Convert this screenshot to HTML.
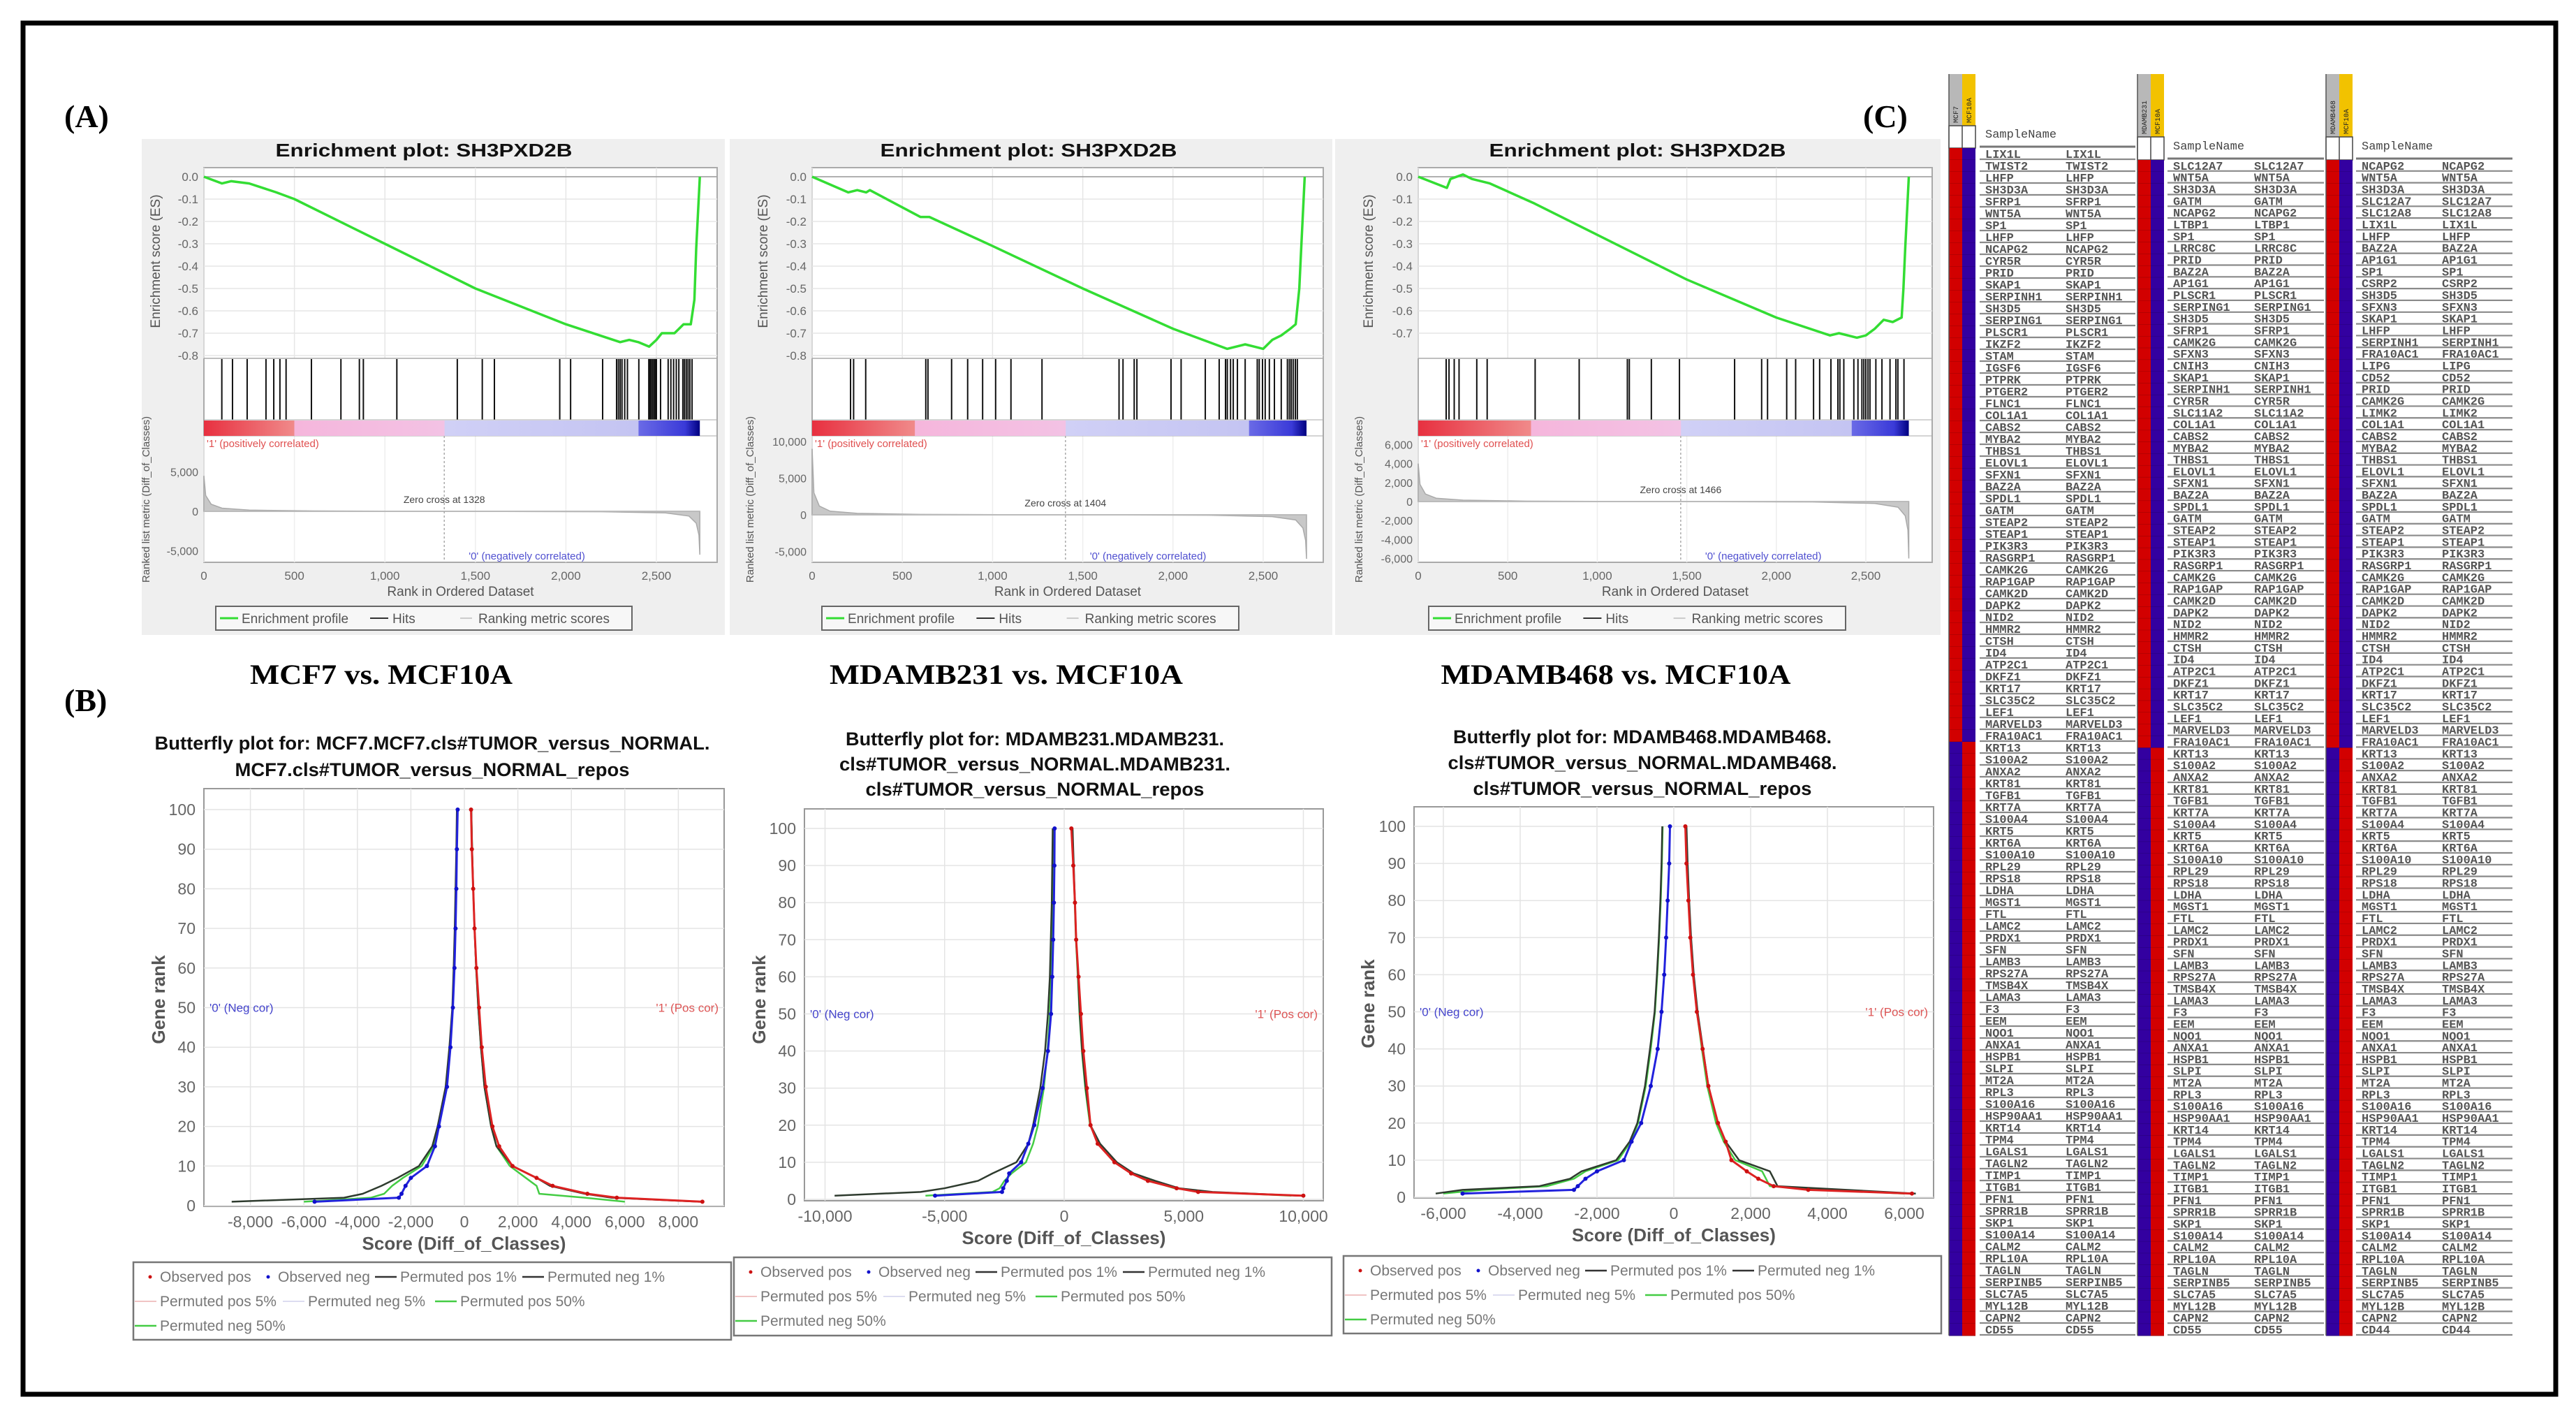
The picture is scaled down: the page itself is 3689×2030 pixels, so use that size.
<!DOCTYPE html>
<html><head><meta charset="utf-8">
<style>
html,body{margin:0;padding:0;background:#fff;}
svg{display:block;font-family:"Liberation Sans",sans-serif;}
</style></head>
<body>
<svg id="fig" width="3689" height="2030" viewBox="0 0 3689 2030" xmlns="http://www.w3.org/2000/svg">
<rect x="0" y="0" width="3689" height="2030" fill="#fff"/>
<rect x="33" y="33" width="3627" height="1963" fill="none" stroke="#000" stroke-width="7"/>
<text x="92" y="182" font-family="Liberation Serif,serif" font-weight="bold" font-size="46">(A)</text>
<text x="92" y="1018" font-family="Liberation Serif,serif" font-weight="bold" font-size="46">(B)</text>
<text x="2668" y="182" font-family="Liberation Serif,serif" font-weight="bold" font-size="46">(C)</text>
<text x="546" y="979" text-anchor="middle" font-family="Liberation Serif,serif" font-weight="bold" font-size="40" textLength="376" lengthAdjust="spacingAndGlyphs">MCF7 vs. MCF10A</text>
<text x="1441" y="979" text-anchor="middle" font-family="Liberation Serif,serif" font-weight="bold" font-size="40" textLength="506" lengthAdjust="spacingAndGlyphs">MDAMB231 vs. MCF10A</text>
<text x="2314" y="979" text-anchor="middle" font-family="Liberation Serif,serif" font-weight="bold" font-size="40" textLength="501" lengthAdjust="spacingAndGlyphs">MDAMB468 vs. MCF10A</text>
</svg>
<script>
// ===== DATA: Enrichment plots (A) =====
const N_RANKS = 2740;
const esRanksA1 = [0,100,150,250,400,500,1000,1500,2000,2300,2350,2400,2460,2500,2530,2600,2650,2690,2710,2720,2740];
const esValsA1  = [0,-0.03,-0.02,-0.03,-0.07,-0.1,-0.3,-0.5,-0.66,-0.74,-0.73,-0.74,-0.76,-0.73,-0.70,-0.70,-0.66,-0.66,-0.55,-0.32,0.0];
const esRanksA2 = [0,200,250,300,320,600,650,1000,1500,2000,2300,2400,2450,2500,2550,2600,2650,2680,2700,2710,2730];
const esValsA2  = [0,-0.07,-0.06,-0.07,-0.06,-0.18,-0.18,-0.31,-0.5,-0.68,-0.77,-0.75,-0.76,-0.77,-0.73,-0.71,-0.68,-0.66,-0.5,-0.33,0];
const esRanksA3 = [0,160,180,250,300,400,650,1000,1500,2000,2300,2350,2450,2500,2550,2600,2650,2700,2710,2720,2740];
const esValsA3  = [0,-0.05,-0.01,0.01,-0.01,-0.03,-0.12,-0.26,-0.46,-0.63,-0.71,-0.70,-0.72,-0.71,-0.68,-0.64,-0.65,-0.63,-0.5,-0.32,0];
const hitsA1 = [99,158,239,343,386,420,454,594,757,859,881,1066,1400,1538,1605,1966,2026,2203,2280,2290,2300,2310,2325,2340,2403,2458,2465,2472,2480,2488,2495,2500,2523,2565,2580,2595,2610,2624,2646,2655,2665,2675,2685,2697];
const hitsA2 = [213,230,297,630,642,773,862,945,1017,1102,1274,1701,1723,1785,1800,1989,2045,2179,2256,2291,2301,2319,2334,2357,2400,2467,2478,2496,2511,2534,2562,2600,2634,2645,2655,2666,2678,2689];
const hitsA3 = [156,172,201,228,327,385,653,899,1168,1179,1302,1459,1767,1918,1951,2058,2108,2208,2242,2305,2344,2355,2377,2433,2456,2478,2489,2500,2512,2523,2556,2590,2635,2668,2679,2713];
const metricRanks = [0,10,40,100,250,600,1330,2200,2550,2680,2720,2735,2740];
const metricA1 = [4500,2000,900,400,150,50,0,-50,-200,-600,-1500,-3000,-5500];
const metricA2 = [9000,3000,1200,500,200,60,0,-60,-250,-700,-1800,-3500,-6000];
const metricA3 = [4000,1800,800,350,150,50,0,-50,-200,-600,-1500,-3000,-6000];
const zeroCross = [1328,1404,1466];
const redEnd = [500,570,630];
const blueStart = [2400,2420,2420];
const rankTicks = [0,500,1000,1500,2000,2500];
const rankTickLabels = ["0","500","1,000","1,500","2,000","2,500"];
const esTicksA12 = [0,-0.1,-0.2,-0.3,-0.4,-0.5,-0.6,-0.7,-0.8];
const esTicksA3 = [0,-0.1,-0.2,-0.3,-0.4,-0.5,-0.6,-0.7];
const metricTicksA1 = [5000,0,-5000];
const metricTicksA2 = [10000,5000,0,-5000];
const metricTicksA3 = [6000,4000,2000,0,-2000,-4000,-6000];

// ===== DATA: Butterfly plots (B) =====
const bRanks = [1,2,3,5,7,10,15,20,30,40,50,60,70,80,90,100];
const b1ObsPos = [8900,5700,4600,3300,2700,1800,1300,1050,800,650,550,450,380,330,280,250];
const b1ObsNeg = [-5600,-2450,-2350,-2200,-2000,-1400,-1100,-950,-650,-520,-430,-370,-330,-300,-280,-250];
const b1P1Pos  = [8800,5500,4500,3200,2700,1800,1200,1000,750,620,520,440,380,330,290,260];
const b1P1Neg  = [-8700,-4500,-3800,-3100,-2500,-1700,-1200,-1000,-700,-560,-450,-400,-360,-330,-300,-280];
const b1P50Pos = [6000,4500,2800,2700,2300,1700,1200,1000,750,620,520,440,380,330,290,260];
const b1P50Neg = [-6000,-3500,-3000,-2700,-2300,-1600,-1150,-950,-680,-540,-440,-390,-350,-320,-290,-270];
const b2ObsPos = [10000,5600,4700,3500,2800,2100,1400,1100,950,800,700,600,500,450,380,300];
const b2ObsNeg = [-5400,-2600,-2550,-2400,-2300,-1800,-1500,-1250,-900,-680,-550,-500,-460,-430,-410,-400];
const b2P1Pos  = [9800,6200,4800,3800,2900,2200,1500,1100,900,750,650,580,500,450,400,350];
const b2P1Neg  = [-9600,-6000,-5000,-3600,-3000,-2000,-1500,-1300,-1000,-800,-680,-600,-560,-520,-500,-480];
const b2P50Pos = [9500,6000,4600,3600,2800,2100,1450,1080,880,740,640,570,490,440,390,340];
const b2P50Neg = [-5800,-3000,-2700,-2500,-2200,-1600,-1300,-1100,-850,-700,-600,-540,-500,-470,-440,-420];
const b3ObsPos = [6200,3500,2600,2200,1900,1500,1350,1150,900,750,600,500,430,380,330,300];
const b3ObsNeg = [-5500,-2600,-2500,-2300,-2000,-1300,-1100,-850,-600,-420,-320,-250,-200,-160,-120,-100];
const b3P1Pos  = [6300,4500,2700,2600,2500,1700,1350,1150,900,760,620,520,450,400,360,330];
const b3P1Neg  = [-6200,-5500,-3500,-2700,-2400,-1500,-1150,-950,-750,-620,-500,-440,-390,-350,-320,-300];
const b3P50Pos = [6000,4000,2500,2400,2300,1600,1300,1100,870,730,600,500,440,390,350,320];
const b3P50Neg = [-6000,-5000,-3300,-2600,-2300,-1450,-1120,-930,-730,-600,-490,-430,-380,-340,-310,-290];
const bRankTicks = [0,10,20,30,40,50,60,70,80,90,100];
const b1XTicks = [-8000,-6000,-4000,-2000,0,2000,4000,6000,8000];
const b2XTicks = [-10000,-5000,0,5000,10000];
const b3XTicks = [-6000,-4000,-2000,0,2000,4000,6000];

// ===== DATA: Heatmap tables (C) =====
const genes1 = ["LIX1L","TWIST2","LHFP","SH3D3A","SFRP1","WNT5A","SP1","LHFP","NCAPG2","CYR5R","PRID","SKAP1","SERPINH1","SH3D5","SERPING1","PLSCR1","IKZF2","STAM","IGSF6","PTPRK","PTGER2","FLNC1","COL1A1","CABS2","MYBA2","THBS1","ELOVL1","SFXN1","BAZ2A","SPDL1","GATM","STEAP2","STEAP1","PIK3R3","RASGRP1","CAMK2G","RAP1GAP","CAMK2D","DAPK2","NID2","HMMR2","CTSH","ID4","ATP2C1","DKFZ1","KRT17","SLC35C2","LEF1","MARVELD3","FRA10AC1","KRT13","S100A2","ANXA2","KRT81","TGFB1","KRT7A","S100A4","KRT5","KRT6A","S100A10","RPL29","RPS18","LDHA","MGST1","FTL","LAMC2","PRDX1","SFN","LAMB3","RPS27A","TMSB4X","LAMA3","F3","EEM","NQO1","ANXA1","HSPB1","SLPI","MT2A","RPL3","S100A16","HSP90AA1","KRT14","TPM4","LGALS1","TAGLN2","TIMP1","ITGB1","PFN1","SPRR1B","SKP1","S100A14","CALM2","RPL10A","TAGLN","SERPINB5","SLC7A5","MYL12B","CAPN2","CD55"];
const genes2 = ["SLC12A7","WNT5A","SH3D3A","GATM","NCAPG2","LTBP1","SP1","LRRC8C","PRID","BAZ2A","AP1G1","PLSCR1","SERPING1","SH3D5","SFRP1","CAMK2G","SFXN3","CNIH3","SKAP1","SERPINH1","CYR5R","SLC11A2"].concat(genes1.slice(22));
const genes3 = ["NCAPG2","WNT5A","SH3D3A","SLC12A7","SLC12A8","LIX1L","LHFP","BAZ2A","AP1G1","SP1","CSRP2","SH3D5","SFXN3","SKAP1","LHFP","SERPINH1","FRA10AC1","LIPG","CD52","PRID","CAMK2G","LIMK2"].concat(genes1.slice(22, 99)).concat(["CD44"]);
const swapRow = [50,50,50];
const sampleHeaders = [["MCF7","MCF10A"],["MDAMB231","MCF10A"],["MDAMB468","MCF10A"]];

// ===== RENDERING =====
const svg = document.getElementById('fig');
const NS = 'http://www.w3.org/2000/svg';
function mk(tag, attrs, parent){ const e=document.createElementNS(NS,tag); for(const k in attrs) e.setAttribute(k,attrs[k]); (parent||svg).appendChild(e); return e; }
function txt(str, attrs, parent){ const e=mk('text',attrs,parent); e.textContent=str; return e; }
function fmt(v){ const s=Math.abs(v).toLocaleString('en-US'); return (v<0?'-':'')+s; }

const defs = mk('defs',{});

function drawEnrichment(k, L, esR, esV, hits, mV, zc, rEnd, bStart, esTicks, mTicks){
  const g = mk('g',{});
  
  
  const xR = r => L.x0 + r*(L.x2500-L.x0)/2500;
  const yE = v => 253 + (v/-0.8)*(509-253);
  const yM = v => L.m0y - v*L.mK;
  const bg = mk('rect',{x:L.pL,y:199,width:L.pR-L.pL,height:710,fill:'#efefef'},g);
  
  
  const t = txt('Enrichment plot: SH3PXD2B',{x:L.tX,y:224,'text-anchor':'middle','font-size':26,'font-weight':'bold',fill:'#111',textLength:425,lengthAdjust:'spacingAndGlyphs'},g);
  
  
  const box = mk('rect',{x:L.bL,y:240,width:L.bR-L.bL,height:565,fill:'#fff',stroke:'#aaa','stroke-width':2},g);
  
  
  esTicks.forEach(v=>{
    const gl = mk('line',{x1:L.bL,x2:L.bR,y1:yE(v),y2:yE(v),stroke:'#e6e6e6','stroke-width':1.5},g);
    
    
    const tl = txt(v.toFixed(1),{x:L.bL-8,y:yE(v)+6,'text-anchor':'end','font-size':17,fill:'#666'},g);
    
    
  });
  rankTicks.forEach((r,i)=>{
    const gl = mk('line',{x1:xR(r),x2:xR(r),y1:240,y2:513,stroke:'#e6e6e6','stroke-width':1.5},g);
    
    
    const gl2 = mk('line',{x1:xR(r),x2:xR(r),y1:624,y2:805,stroke:'#eee','stroke-width':1.5},g);
    
    
    const tl = txt(rankTickLabels[i],{x:xR(r),y:830,'text-anchor':'middle','font-size':17,fill:'#666'},g);
    
    
  });
  const zl = mk('line',{x1:L.bL,x2:L.bR,y1:yE(0),y2:yE(0),stroke:'#999','stroke-width':1.5},g);
  
  
  const es = mk('polyline',{points:esR.map((r,i)=>xR(r)+','+yE(esV[i])).join(' '),fill:'none',stroke:'#33dd33','stroke-width':3.5,'stroke-linejoin':'round'},g);
  
  
  mk('line',{x1:L.bL,x2:L.bR,y1:513,y2:513,stroke:'#aaa','stroke-width':1.5},g);
  hits.forEach(r=>{
    const h = mk('line',{x1:xR(r),x2:xR(r),y1:514,y2:601,stroke:'#111','stroke-width':2},g);
    
    
  });
  mk('line',{x1:L.bL,x2:L.bR,y1:601,y2:601,stroke:'#aaa','stroke-width':1},g);
  mk('line',{x1:L.bL,x2:L.bR,y1:624,y2:624,stroke:'#aaa','stroke-width':1},g);
  const gid='cbar'+k;
  const lg = mk('linearGradient',{id:gid,x1:0,x2:1,y1:0,y2:0},defs);
  const stops=[[0,'#e83040'],[rEnd/N_RANKS*0.999,'#f08a8a'],[rEnd/N_RANKS,'#f5b6dc'],[zc/N_RANKS,'#f3c2e4'],[zc/N_RANKS+0.001,'#d0d0f6'],[bStart/N_RANKS,'#c4c4f2'],[bStart/N_RANKS+0.001,'#6a6ae6'],[0.97,'#3a3ad8'],[1,'#000080']];
  stops.forEach(s=>mk('stop',{offset:s[0],'stop-color':s[1]},lg));
  const cb = mk('rect',{x:xR(0),y:602,width:xR(N_RANKS)-xR(0),height:22,fill:'url(#'+gid+')'},g);
  
  
  const pts = [xR(0)+','+yM(0)].concat(metricRanks.map((r,i)=>xR(r)+','+yM(mV[i]))).concat([xR(N_RANKS)+','+yM(0)]);
  const ma = mk('polygon',{points:pts.join(' '),fill:'#c8c8c8',stroke:'#aaa','stroke-width':1.5},g);
  
  
  mk('line',{x1:xR(0),x2:xR(N_RANKS),y1:yM(0),y2:yM(0),stroke:'#bbb','stroke-width':2},g);
  const zcl = mk('line',{x1:xR(zc),x2:xR(zc),y1:624,y2:805,stroke:'#aaa','stroke-width':1.5,'stroke-dasharray':'3,3'},g);
  
  
  mTicks.forEach(v=>{
    const tl = txt(fmt(v),{x:L.bL-8,y:yM(v)+6,'text-anchor':'end','font-size':16,fill:'#666'},g);
    
    
  });
  const zt = txt('Zero cross at '+zc,{x:xR(zc),y:yM(0)-12,'text-anchor':'middle','font-size':14,fill:'#444'},g);
  
  
  const pc = txt("'1' (positively correlated)",{x:xR(0)+4,y:640,'font-size':15,fill:'#e05050'},g);
  
  
  const nc = txt("'0' (negatively correlated)",{x:xR(zc)+35,y:801,'font-size':15,fill:'#5050d0'},g);
  
  
  const xt = txt('Rank in Ordered Dataset',{x:(L.bL+L.bR)/2,y:853,'text-anchor':'middle','font-size':19,fill:'#555'},g);
  
  
  const yt = txt('Enrichment score (ES)',{x:0,y:0,'text-anchor':'middle','font-size':19,fill:'#555',transform:'translate('+L.yEs+',374) rotate(-90)'},g);
  
  
  const yt2 = txt('Ranked list metric (Diff_of_Classes)',{x:0,y:0,'text-anchor':'middle','font-size':15,fill:'#555',transform:'translate('+L.yMl+',715) rotate(-90)'},g);
  
  
  const lb = mk('rect',{x:L.lL,y:868,width:L.lR-L.lL,height:34,fill:'#f7f7f7',stroke:'#666','stroke-width':2},g);
  
  
  const s = (L.lR-L.lL)/596;
  mk('line',{x1:L.lL+6*s,x2:L.lL+32*s,y1:885,y2:885,stroke:'#33dd33','stroke-width':3},g);
  const e1 = txt('Enrichment profile',{x:L.lL+37*s,y:892,'font-size':19,fill:'#555'},g);
  
  
  mk('line',{x1:L.lL+221*s,x2:L.lL+247*s,y1:885,y2:885,stroke:'#333','stroke-width':2},g);
  const e2 = txt('Hits',{x:L.lL+253*s,y:892,'font-size':19,fill:'#555'},g);
  
  
  mk('line',{x1:L.lL+350*s,x2:L.lL+367*s,y1:885,y2:885,stroke:'#ccc','stroke-width':2},g);
  const e3 = txt('Ranking metric scores',{x:L.lL+376*s,y:892,'font-size':19,fill:'#555'},g);
  
  
}

const layoutsA = [
  {pL:203,pR:1038,x0:292,x2500:940,bL:292,bR:1027,tX:607,m0y:732,mK:0.0113,yEs:229,yMl:214,lL:309,lR:905},
  {pL:1045,pR:1908,x0:1163,x2500:1809,bL:1163,bR:1895,tX:1473,m0y:737,mK:0.0105,yEs:1099,yMl:1079,lL:1177,lR:1774},
  {pL:1912,pR:2779,x0:2031,x2500:2672,bL:2031,bR:2767,tX:2345,m0y:718,mK:0.01358,yEs:1966,yMl:1951,lL:2046,lR:2643}
];
drawEnrichment(0,layoutsA[0],esRanksA1,esValsA1,hitsA1,metricA1,zeroCross[0],redEnd[0],blueStart[0],esTicksA12,metricTicksA1);
drawEnrichment(1,layoutsA[1],esRanksA2,esValsA2,hitsA2,metricA2,zeroCross[1],redEnd[1],blueStart[1],esTicksA12,metricTicksA2);
drawEnrichment(2,layoutsA[2],esRanksA3,esValsA3,hitsA3,metricA3,zeroCross[2],redEnd[2],blueStart[2],esTicksA3,metricTicksA3);

function drawButterfly(k, L, titleLines, obsPos, obsNeg, p1Pos, p1Neg, p50Pos, p50Neg, xTicks){
  const g = mk('g',{});
  
  
  const xS = v => L.x0 + v*L.xK;
  const yS = r => L.y0 - r*(L.y0-L.y100)/100;
  titleLines.forEach((ln,i)=>{
    const t = txt(ln[0],{x:L.tX,y:L.tY[i]+9,'text-anchor':'middle','font-size':27,'font-weight':'bold',fill:'#111',textLength:ln[1],lengthAdjust:'spacingAndGlyphs'},g);
    
    
  });
  const box = mk('rect',{x:L.bL,y:L.bT,width:L.bR-L.bL,height:L.bB-L.bT,fill:'#fff',stroke:'#999','stroke-width':2},g);
  
  
  bRankTicks.forEach(r=>{
    const gl = mk('line',{x1:L.bL,x2:L.bR,y1:yS(r),y2:yS(r),stroke:'#e4e4e4','stroke-width':1.5},g);
    
    
    const tl = txt(String(r),{x:L.bL-12,y:yS(r)+8,'text-anchor':'end','font-size':23,fill:'#666'},g);
    
    
  });
  xTicks.forEach(v=>{
    const gl = mk('line',{x1:xS(v),x2:xS(v),y1:L.bT,y2:L.bB,stroke:'#e4e4e4','stroke-width':1.5},g);
    
    
    const tl = txt(fmt(v),{x:xS(v),y:L.bB+30,'text-anchor':'middle','font-size':23,fill:'#666'},g);
    
    
  });
  const line = (vals,color,w,name)=>{
    const p = mk('polyline',{points:bRanks.map((r,i)=>xS(vals[i])+','+yS(r)).join(' '),fill:'none',stroke:color,'stroke-width':w,'stroke-linejoin':'round'},g);
    
    
  };
  line(p50Pos,'#44cc44',2.5,'permuted-pos-50-line');
  line(p50Neg,'#44cc44',2.5,'permuted-neg-50-line');
  line(p1Pos,'#2e3b2e',2.5,'permuted-pos-1-line');
  line(p1Neg,'#2e3b2e',2.5,'permuted-neg-1-line');
  line(obsPos,'#dd2222',3,'observed-pos-line');
  line(obsNeg,'#2222dd',3,'observed-neg-line');
  bRanks.forEach((r,i)=>{
    const d1 = mk('circle',{cx:xS(obsPos[i]),cy:yS(r),r:3,fill:'#cc1111'},g);
    
    
    const d2 = mk('circle',{cx:xS(obsNeg[i]),cy:yS(r),r:3,fill:'#1111cc'},g);
    
    
  });
  const nl = txt("'0' (Neg cor)",{x:L.bL+8,y:yS(50)+6,'font-size':17,fill:'#4444cc'},g);
  
  
  const pl = txt("'1' (Pos cor)",{x:L.bR-8,y:yS(50)+6,'text-anchor':'end','font-size':17,fill:'#dd5555'},g);
  
  
  const xt = txt('Score (Diff_of_Classes)',{x:(L.bL+L.bR)/2,y:L.bB+62,'text-anchor':'middle','font-size':26,'font-weight':'bold',fill:'#555'},g);
  
  
  const yt = txt('Gene rank',{x:0,y:0,'text-anchor':'middle','font-size':26,'font-weight':'bold',fill:'#555',transform:'translate('+L.gX+','+L.gY+') rotate(-90)'},g);
  
  
  const lb = mk('rect',{x:L.lL,y:L.lT,width:L.lR-L.lL,height:L.lB-L.lT,fill:'#fff',stroke:'#777','stroke-width':2.5},g);
  
  
  const r1=L.lT+28, r2=L.lT+63, r3=L.lT+98, x=L.lL;
  const entry=(str,tx,ty,sym,color,name)=>{
    if(sym==='dot'){ mk('circle',{cx:x+tx-14,cy:ty-7,r:2.5,fill:color},g); }
    else { mk('line',{x1:x+tx-36,x2:x+tx-5,y1:ty-7,y2:ty-7,stroke:color,'stroke-width':sym==='thin'?1.2:2.5},g); }
    const e = txt(str,{x:x+tx,y:ty,'font-size':21,fill:'#777'},g);
    
    
  };
  entry('Observed pos',38,r1,'dot','#cc1111','legend-observed-pos');
  entry('Observed neg',207,r1,'dot','#1111cc','legend-observed-neg');
  entry('Permuted pos 1%',382,r1,'line','#333','legend-permuted-pos-1');
  entry('Permuted neg 1%',593,r1,'line','#333','legend-permuted-neg-1');
  entry('Permuted pos 5%',38,r2,'thin','#e7a0a0','legend-permuted-pos-5');
  entry('Permuted neg 5%',250,r2,'thin','#c8c8e8','legend-permuted-neg-5');
  entry('Permuted pos 50%',468,r2,'line','#44cc44','legend-permuted-pos-50');
  entry('Permuted neg 50%',38,r3,'line','#44cc44','legend-permuted-neg-50');
}

const layoutsB = [
  {tX:619,tY:[1064,1102],bL:292,bR:1037,bT:1129,bB:1727,x0:665,xK:0.0383,y0:1726,y100:1159,gX:236,gY:1431,lL:191,lR:1047,lT:1807,lB:1918},
  {tX:1482,tY:[1058,1094,1130],bL:1152,bR:1895,bT:1158,bB:1719,x0:1524,xK:0.03425,y0:1717,y100:1186,gX:1096,gY:1431,lL:1051,lR:1907,lT:1800,lB:1912},
  {tX:2352,tY:[1055,1092,1129],bL:2025,bR:2769,bT:1155,bB:1715,x0:2397,xK:0.055,y0:1714,y100:1183,gX:1968,gY:1437,lL:1924,lR:2780,lT:1798,lB:1909}
];
drawButterfly(0,layoutsB[0],[["Butterfly plot for: MCF7.MCF7.cls#TUMOR_versus_NORMAL.",795],["MCF7.cls#TUMOR_versus_NORMAL_repos",565]],b1ObsPos,b1ObsNeg,b1P1Pos,b1P1Neg,b1P50Pos,b1P50Neg,b1XTicks);
drawButterfly(1,layoutsB[1],[["Butterfly plot for: MDAMB231.MDAMB231.",542],["cls#TUMOR_versus_NORMAL.MDAMB231.",560],["cls#TUMOR_versus_NORMAL_repos",485]],b2ObsPos,b2ObsNeg,b2P1Pos,b2P1Neg,b2P50Pos,b2P50Neg,b2XTicks);
drawButterfly(2,layoutsB[2],[["Butterfly plot for: MDAMB468.MDAMB468.",542],["cls#TUMOR_versus_NORMAL.MDAMB468.",557],["cls#TUMOR_versus_NORMAL_repos",485]],b3ObsPos,b3ObsNeg,b3P1Pos,b3P1Neg,b3P50Pos,b3P50Neg,b3XTicks);

function drawTable(k, L, genes, swap, hdr){
  const g = mk('g',{});
  
  
  const cw = 19;
  const hc1 = mk('rect',{x:L.hL,y:106,width:cw,height:L.hB-106,fill:'#b8b8b8'},g);
  
  
  const hc2 = mk('rect',{x:L.hL+cw,y:106,width:cw,height:L.hB-106,fill:'#f2c200'},g);
  
  
  hdr.forEach((h,i)=>{
    const ht = txt(h,{x:0,y:0,'font-size':10,'font-family':'Liberation Mono,monospace',fill:'#222',transform:'translate('+(L.hL+cw*i+13)+','+(L.hB-4)+') rotate(-90)'},g);
    
    
  });
  mk('rect',{x:L.hL,y:L.hB,width:2*cw,height:L.top-L.hB,fill:'#fff',stroke:'#444','stroke-width':1.5},g);
  mk('line',{x1:L.hL+cw,x2:L.hL+cw,y1:L.hB,y2:L.top,stroke:'#444','stroke-width':1.5},g);
  const sn = txt('SampleName',{x:L.tA,y:L.nY,'font-size':17,'font-family':'Liberation Mono,monospace',fill:'#444'},g);
  
  
  mk('line',{x1:L.tA-8,x2:L.r,y1:L.top-2,y2:L.top-2,stroke:'#777','stroke-width':3},g);
  const rh = (1912-L.top)/genes.length;
  genes.forEach((name,i)=>{
    const y = L.top + i*rh;
    const redFirst = i < swap;
    const c1 = mk('rect',{x:L.hL,y:y,width:cw,height:rh+0.5,fill:redFirst?'#d20000':'#3300a0'},g);
    
    
    const c2 = mk('rect',{x:L.hL+cw,y:y,width:cw,height:rh+0.5,fill:redFirst?'#3300a0':'#d20000'},g);
    
    
    mk('line',{x1:L.hL,x2:L.hL+2*cw,y1:y+rh,y2:y+rh,stroke:'#000','stroke-opacity':0.25,'stroke-width':1},g);
    const a = txt(name,{x:L.tA,y:y+rh-3,'font-size':17,'font-weight':'bold','font-family':'Liberation Mono,monospace',fill:'#555'},g);
    
    
    const b = txt(name,{x:L.tB,y:y+rh-3,'font-size':17,'font-weight':'bold','font-family':'Liberation Mono,monospace',fill:'#555'},g);
    
    
    const rl = mk('line',{x1:L.tA-8,x2:L.r,y1:y+rh-1,y2:y+rh-1,stroke:'#8a8a8a','stroke-width':2.2},g);
    
    
  });
  mk('line',{x1:L.hL,x2:L.hL,y1:106,y2:1912,stroke:'#555','stroke-width':1.5},g);
}
const layoutsC = [
  {hL:2791,hB:180,top:212,tA:2843,tB:2958,r:3058,nY:197},
  {hL:3061,hB:196,top:229,tA:3112,tB:3228,r:3328,nY:214},
  {hL:3331,hB:196,top:229,tA:3382,tB:3497,r:3598,nY:214}
];
drawTable(0,layoutsC[0],genes1,swapRow[0],sampleHeaders[0]);
drawTable(1,layoutsC[1],genes2,swapRow[1],sampleHeaders[1]);
drawTable(2,layoutsC[2],genes3,swapRow[2],sampleHeaders[2]);
</script>
</body></html>
